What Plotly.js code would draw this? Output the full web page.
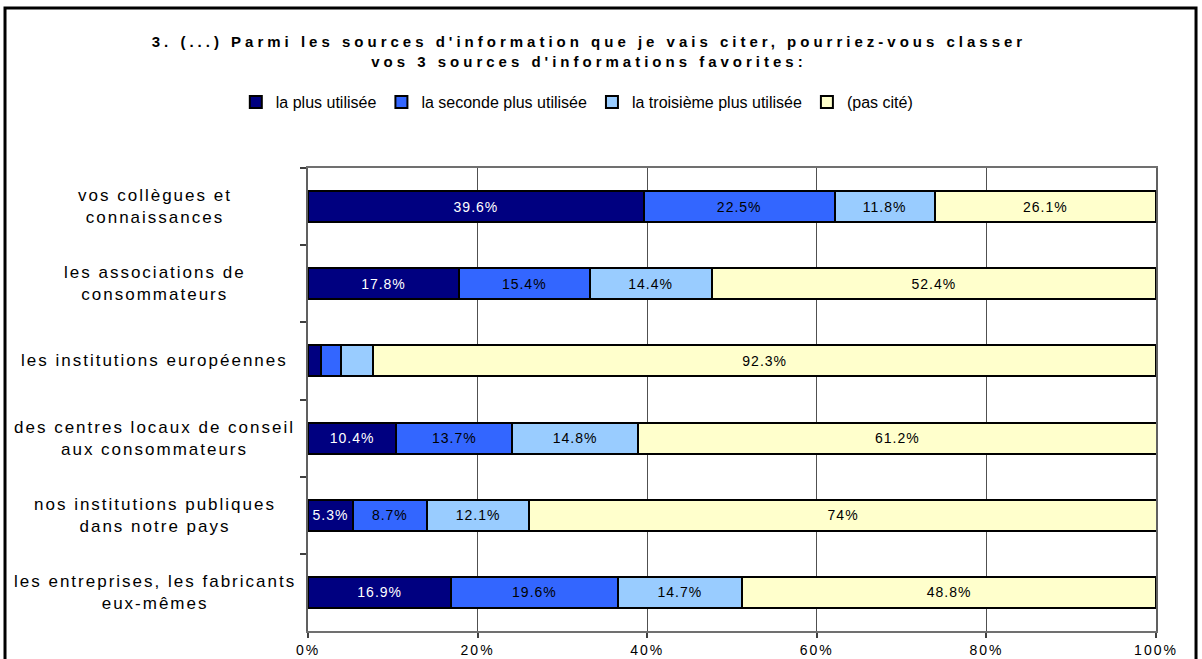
<!DOCTYPE html>
<html>
<head>
<meta charset="utf-8">
<script src="https://cdn.plot.ly/plotly-3.0.1.min.js"></script>
<style>
html,body{margin:0;padding:0;background:#fff;}
#chart{width:1202px;height:659px;}
#chart .gtitle{letter-spacing:4px;}
#chart .annotation-text{letter-spacing:2px;}
#chart .bartext{letter-spacing:1px;}
#chart .xtick text{letter-spacing:2px;}
</style>
</head>
<body>
<div id="chart"></div>
<script>
// Categories (top to bottom)
const categories = [
  "vos collègues et<br>connaissances",
  "les associations de<br>consommateurs",
  "les institutions européennes",
  "des centres locaux de conseil<br>aux consommateurs",
  "nos institutions publiques<br>dans notre pays",
  "les entreprises, les fabricants<br>eux-mêmes"
];
const seriesNames = ["la plus utilisée", "la seconde plus utilisée", "la troisième plus utilisée", "(pas cité)"];
const plusUtilisee      = [39.6, 17.8, 1.5, 10.4, 5.3, 16.9];
const secondeUtilisee   = [22.5, 15.4, 2.4, 13.7, 8.7, 19.6];
const troisiemeUtilisee = [11.8, 14.4, 3.8, 14.8, 12.1, 14.7];
const pasCite           = [26.1, 52.4, 92.3, 61.2, 74, 48.8];
const xTickVals = [0, 20, 40, 60, 80, 100];
const xTickText = ["0%", "20%", "40%", "60%", "80%", "100%"];

const colors = ["#000080", "#3366FF", "#99CCFF", "#FFFFCC"];
const textColors = ["#FFFFFF", "#000000", "#000000", "#000000"];
const allSeries = [plusUtilisee, secondeUtilisee, troisiemeUtilisee, pasCite];

const FONT = "Liberation Sans, Arial, sans-serif";

const traces = allSeries.map((vals, i) => ({
  type: "bar",
  orientation: "h",
  name: seriesNames[i],
  y: categories,
  x: vals,
  text: vals.map(v => v >= 5 ? v + "%" : ""),
  textposition: "inside",
  insidetextanchor: "middle",
  textangle: 0,
  constraintext: "none",
  textfont: {family: FONT, size: 14, color: textColors[i]},
  marker: {color: colors[i], line: {color: "#000000", width: 2}},
  hoverinfo: "name+x"
}));

const annotations = categories.map(c => ({
  xref: "paper", yref: "y",
  x: -0.181, y: c,
  text: c,
  showarrow: false,
  xanchor: "center", yanchor: "middle",
  align: "center",
  font: {family: FONT, size: 17, color: "#000"}
}));

const layout = {
  width: 1202, height: 659,
  margin: {l: 308, r: 46, t: 168, b: 28, pad: 0},
  paper_bgcolor: "#ffffff",
  plot_bgcolor: "#ffffff",
  barmode: "stack",
  bargap: 0.6,
  showlegend: true,
  title: {
    text: "<b>3. (...) Parmi les sources d'information que je vais citer, pourriez-vous classer<br>vos 3 sources d'informations favorites:</b>",
    font: {family: FONT, size: 15, color: "#000"},
    x: 0.49, xanchor: "center", xref: "container",
    y: 0.928, yanchor: "top", yref: "container"
  },
  legend: {
    orientation: "h",
    x: 0.317, xanchor: "center", xref: "paper",
    y: 1.1425, yanchor: "middle", yref: "paper",
    font: {family: FONT, size: 16, color: "#000"},
    traceorder: "normal",
    itemwidth: 30
  },
  xaxis: {
    range: [0, 100],
    tickvals: xTickVals,
    ticktext: xTickText,
    ticks: "outside", ticklen: 5, tickcolor: "#404040", tickwidth: 1.5,
    ticklabelstandoff: 0,
    showgrid: true, gridcolor: "#505050", gridwidth: 1.2,
    showline: true, linecolor: "#707070", linewidth: 2, mirror: true,
    zeroline: false,
    tickfont: {family: FONT, size: 14, color: "#000"},
    fixedrange: true
  },
  yaxis: {
    type: "category",
    autorange: "reversed",
    showticklabels: false,
    ticks: "outside", ticklen: 6, tickcolor: "#404040", tickwidth: 1.5,
    tickson: "boundaries",
    showgrid: false,
    showline: true, linecolor: "#606060", linewidth: 2, mirror: true,
    zeroline: false,
    fixedrange: true
  },
  annotations: annotations,
  shapes: [{
    type: "rect", xref: "paper", yref: "paper",
    x0: -0.3573, x1: 1.0472, y0: -0.2, y1: 1.3456,
    line: {color: "#000", width: 3}, fillcolor: "rgba(0,0,0,0)", layer: "above"
  }]
};

Plotly.newPlot("chart", traces, layout, {displayModeBar: false});
</script>
</body>
</html>
